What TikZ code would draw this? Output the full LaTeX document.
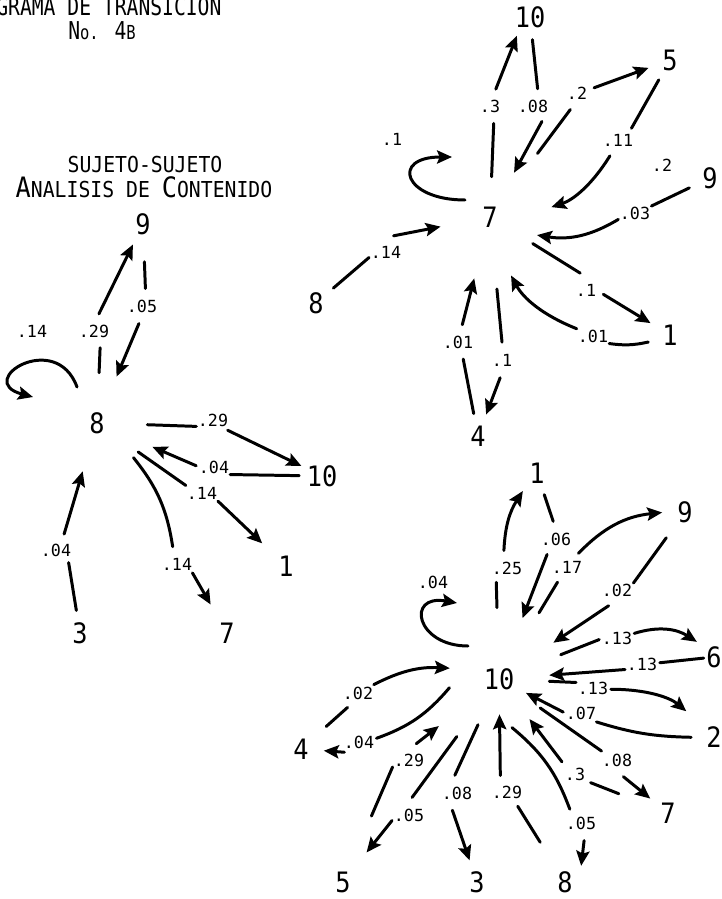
\documentclass[tikz,border=0pt]{standalone}
\usepackage{fontspec}
\newfontfamily\typer[FakeStretch=0.9]{DejaVu Sans Mono}
\newfontfamily\titletyper[FakeStretch=0.8]{DejaVu Sans Mono}
\newfontfamily\probtyper{DejaVu Sans Mono}
\usetikzlibrary{arrows.meta}
\newcommand{\scbig}[1]{{\fontsize{16}{16}\selectfont #1}}
\newcommand{\scsmall}[1]{{\fontsize{12.5}{12.5}\selectfont #1}}
\tikzstyle{hub} = [circle, inner sep=0pt, minimum size=2cm, font={\typer\fontsize{16}{16}\selectfont}]
\tikzstyle{leaf} = [circle, inner sep=0pt, minimum size=0.9cm, font={\typer\fontsize{16}{16}\selectfont}]
\tikzstyle{prob} = [circle, inner sep=0pt, minimum size=0.7cm, font={\probtyper\fontsize{9.5}{9.5}\selectfont}]
\tikzstyle{title} = [inner sep=0pt, font=\typer]
\tikzstyle{seg} = [draw, line width=1.7pt, line cap=round]
\tikzstyle{arrow} = [seg, -{Stealth[length=8.5pt, width=7.5pt, inset=1.5pt]}]

\begin{document}
\begin{tikzpicture}[x=0.02cm, y=-0.02cm]
    \useasboundingbox (0, 0) rectangle (721, 899);
    \clip (0, 0) rectangle (721, 899);

    % titles
    \node[title, anchor=base west] at (-4, 15) (maintitle) {\titletyper\fontsize{14}{14}\selectfont GRAMA DE TRANSICION};
    \node[title, anchor=base] at (102, 39) (number) {\titletyper\fontsize{14}{14}\selectfont N{\fontsize{11}{11}\selectfont o.} 4{\fontsize{11}{11}\selectfont B}};
    \node[title, anchor=base] at (145, 172) (subtitle) {\scsmall{SUJETO-SUJETO}};
    \node[title, anchor=base] at (144, 197) (method) {\scbig{A}\scsmall{NALISIS DE }\scbig{C}\scsmall{ONTENIDO}};

    % graph of 7
    \node[hub] at (490, 217) (n7) {7};
    \node[leaf] at (530, 17) (t10) {10};
    \node[leaf] at (670, 60) (t5) {5};
    \node[leaf] at (710, 178) (t9) {9};
    \node[leaf] at (316, 303) (t8) {8};
    \node[leaf] at (670, 335) (t1) {1};
    \node[leaf] at (478, 436) (t4) {4};

    \node[prob] at (392, 139) (p77) {.1};
    \node[prob] at (490, 106) (p710) {.3};
    \node[prob] at (533, 106) (p107) {.08};
    \node[prob] at (577, 93) (p75) {.2};
    \node[prob] at (618, 140) (p57) {.11};
    \node[prob] at (662, 165) (p79) {.2};
    \node[prob] at (635, 213) (p97) {.03};
    \node[prob] at (386, 252) (p87) {.14};
    \node[prob] at (586, 290) (p71) {.1};
    \node[prob] at (593, 336) (p17) {.01};
    \node[prob] at (458, 342) (p47) {.01};
    \node[prob] at (502, 360) (p74) {.1};

    \coordinate (loop7a) at (465, 200);
    \coordinate (loop7b) at (452, 157);
    \path[arrow] (loop7a) to[out=180, in=180, looseness=3.5] (loop7b);

    \path[seg, shorten <=-0.2cm] (n7) to (p710.282);
    \path[arrow] (p710.71) to (t10.235);
    \path[seg] (t10) to (p107.75);
    \path[arrow] (p107.300) to (n7);
    \path[seg, shorten <=0.58cm] (n7) to (p75.248);
    \path[arrow] (p75.17) to (t5);
    \path[seg] (t5) to (p57.41);
    \path[arrow, shorten >=0.24cm] (p57.243) to[bend left=20] (n7);
    \path[seg] (t9) to (p97.23);
    \path[arrow] (p97.201) to[bend left=20] (n7);
    \path[seg] (t8) to (p87.198);
    \path[arrow] (p87.65) to (n7);
    \path[seg] (n7) to (p71.109);
    \path[arrow] (p71.346) to (t1);
    \path[seg] (t1) to[bend left=10] (p17.335);
    \path[arrow, shorten >=0.24cm] (p17.156) to[bend left=20] (n7);
    \path[seg] (t4) to (p47.287);
    \path[arrow, shorten >=0.26cm] (p47.76) to (n7);
    \path[seg, shorten <=0.44cm] (n7) to (p74.90);
    \path[arrow] (p74.264) to (t4);

    % graph of 8
    \node[hub] at (97, 423) (m8) {8};
    \node[leaf] at (143, 224) (l9) {9};
    \node[leaf] at (322, 476) (l10) {10};
    \node[leaf] at (286, 566) (l1) {1};
    \node[leaf] at (80, 633) (l3) {3};
    \node[leaf] at (227, 633) (l7) {7};

    \node[prob] at (32, 331) (q88) {.14};
    \node[prob] at (94, 331) (q89) {.29};
    \node[prob] at (142, 306) (q98) {.05};
    \node[prob] at (213, 420) (q810) {.29};
    \node[prob] at (214, 467) (q108) {.04};
    \node[prob] at (202, 493) (q81) {.14};
    \node[prob] at (177, 564) (q87) {.14};
    \node[prob] at (56, 550) (q38) {.04};

    \coordinate (loop8a) at (77, 387);
    \coordinate (loop8b) at (33, 397);
    \path[arrow] (loop8a) to[out=110, in=165, looseness=3.5] (loop8b);

    \path[seg] (m8) to (q89.290);
    \path[arrow] (q89.74) to (l9);
    \path[seg, shorten <=0.3cm] (l9) to (q98.79);
    \path[arrow] (q98.260) to (m8);
    \path[seg] (m8) to (q810.201);
    \path[arrow] (q810.325) to (l10);
    \path[seg] (l10) to (q108.335);
    \path[arrow, shorten >=0.2cm] (q108.176) to (m8);
    \path[seg] (m8) to (q81.155);
    \path[arrow, shorten >=0.2cm] (q81.333) to (l1);
    \path[seg] (m8) to[bend left=15] (q87.104);
    \path[arrow, shorten >=0.2cm] (q87.330) to (l7);
    \path[seg] (l3) to (q38.315);
    \path[arrow] (q38.63) to (m8);

    % graph of 10
    \node[hub] at (499, 679) (b10) {10};
    \node[leaf] at (537, 473) (b1) {1};
    \node[leaf] at (685, 512) (b9) {9};
    \node[leaf] at (714, 657) (b6) {6};
    \node[leaf] at (714, 737) (b2) {2};
    \node[leaf] at (668, 813) (b7) {7};
    \node[leaf] at (565, 882) (b8) {8};
    \node[leaf] at (477, 882) (b3) {3};
    \node[leaf] at (343, 882) (b5) {5};
    \node[leaf] at (301, 749) (b4) {4};

    \node[prob] at (433, 582) (r1010) {.04};
    \node[prob] at (507, 568) (r101) {.25};
    \node[prob] at (556, 539) (r110) {.06};
    \node[prob] at (567, 567) (r109) {.17};
    \node[prob] at (617, 590) (r910) {.02};
    \node[prob] at (617, 638) (r106) {.13};
    \node[prob] at (642, 664) (r610) {.13};
    \node[prob] at (593, 688) (r102) {.13};
    \node[prob] at (581, 713) (r210) {.07};
    \node[prob] at (617, 760) (r107) {.08};
    \node[prob] at (575, 774) (r710) {.3};
    \node[prob] at (581, 823) (r108) {.05};
    \node[prob] at (507, 792) (r810) {.29};
    \node[prob] at (457, 793) (r103) {.08};
    \node[prob] at (409, 760) (r510) {.29};
    \node[prob] at (409, 815) (r105) {.05};
    \node[prob] at (358, 693) (r410) {.02};
    \node[prob] at (359, 742) (r104) {.04};

    \coordinate (loop10a) at (468, 646);
    \coordinate (loop10b) at (457, 603);
    \path[arrow] (loop10a) to[out=180, in=170, looseness=3] (loop10b);

    \path[seg, shorten <=0.42cm] (b10) to (r101.233);
    \path[arrow] (r101.100) to[bend left=15] (b1);
    \path[seg] (b1) to (r110.99);
    \path[arrow, shorten >=0.3cm] (r110.240) to (b10);
    \path[seg, shorten <=0.54cm] (b10) to (r109.238);
    \path[arrow] (r109.50) to[bend left=20] (b9);
    \path[seg, shorten <=0.18cm] (b9) to (r910.23);
    \path[arrow, shorten >=0.3cm] (r910.242) to (b10);
    \path[seg, shorten <=0.32cm] (b10) to (r106.185);
    \path[arrow] (r106.15) to[bend left=25] (b6);
    \path[seg, shorten <=-0.25cm] (b6) to (r610.4);
    \path[arrow] (r610.198) to (b10);
    \path[seg] (b10) to (r102.162);
    \path[arrow, shorten >=0.3cm] (r102.356) to[bend left=20] (b2);
    \path[seg] (b2) to[bend left=8] (r210.330);
    \path[arrow, shorten >=-0.4cm] (r210.177) to (b10);
    \path[seg] (b10) to (r107.150);
    \path[arrow] (r107.291) to (b7);
    \path[seg, shorten <=0.6cm] (b7) to (r710.331);
    \path[arrow] (r710.137) to (b10);
    \path[seg] (b10.285) to[bend left=15] (r108.129);
    \path[arrow] (r108.280) to (b8.45);
    \path[seg, shorten <=0.48cm] (b8) to (r810.307);
    \path[arrow, shorten >=-0.3cm] (r810.112) to (b10);
    \path[seg] (b10) to (r103.97);
    \path[arrow] (r103.255) to (b3);
    \path[seg, shorten <=0.98cm] (b5) to (r510.203);
    \path[arrow, shorten >=0.52cm] (r510.66) to (b10);
    \path[seg, shorten <=0.42cm] (b10) to (r105.80);
    \path[arrow, shorten >=0.3cm] (r105.198) to (b5);
    \path[seg, shorten <=0.22cm] (b4) to (r410.234);
    \path[arrow] (r410.28) to[bend left=15] (b10);
    \path[seg] (b10.190) to[bend left=15] (r104.12);
    \path[arrow] (r104.215) to (b4);

\end{tikzpicture}
\end{document}
